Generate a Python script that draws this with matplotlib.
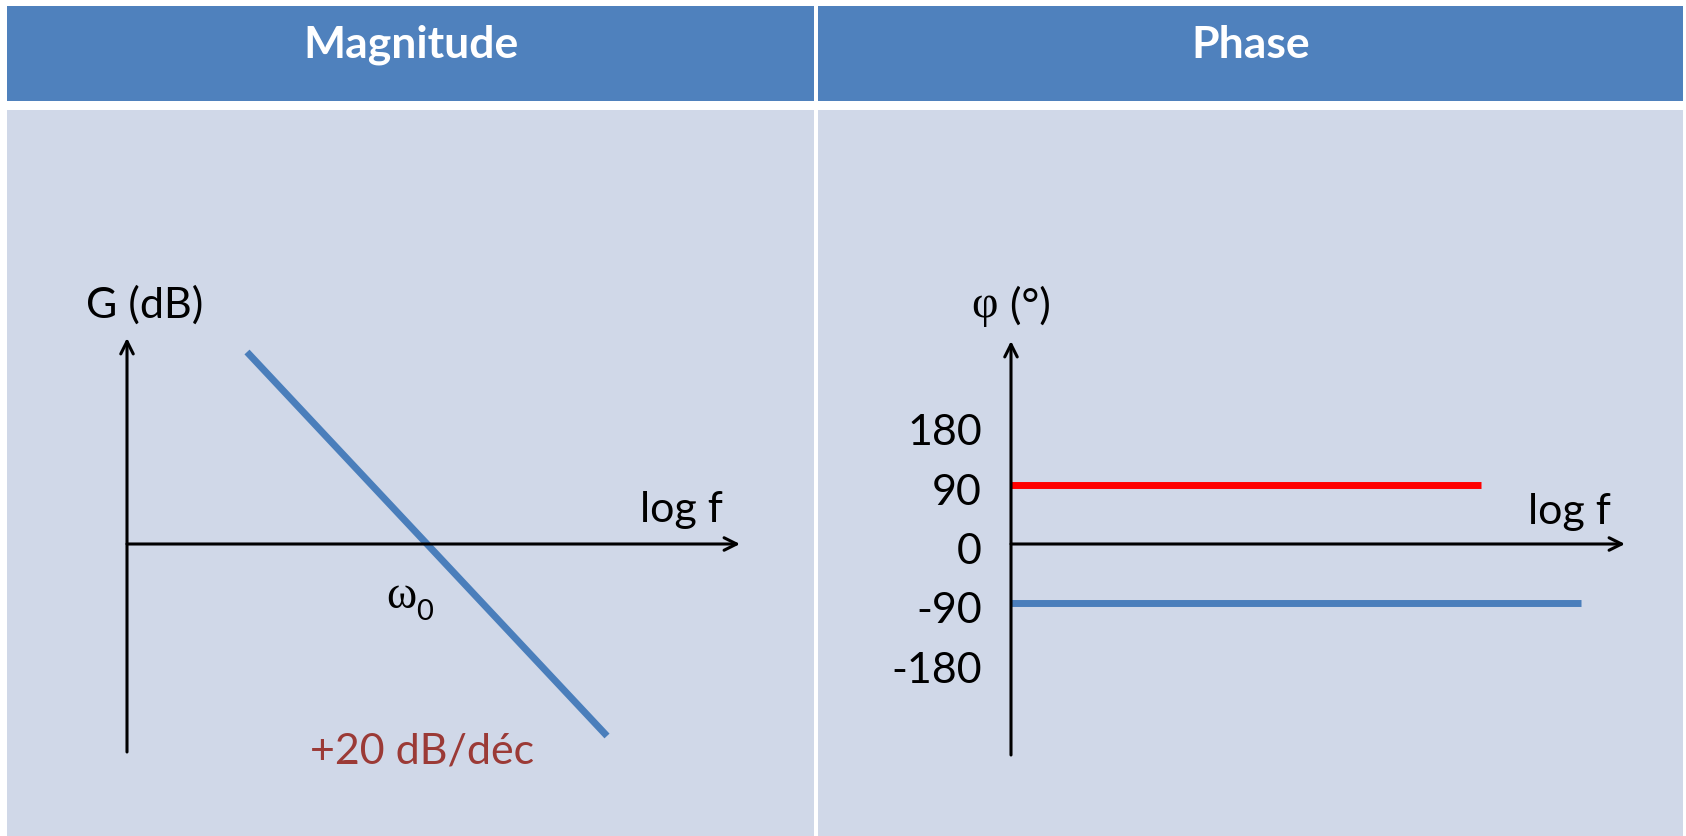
import matplotlib.pyplot as plt
from matplotlib.patches import Rectangle

# data: asymptotic Bode diagram (first-order, one decade = 1 unit of log f)
panel_titles = ["Magnitude", "Phase"]
mag_logf = [0.8, 3.2]
mag_gain = [24, -24]
w0_logf = 2.0
slope_label = "+20 dB/déc"
phase_red_logf = [0.0, 3.13]
phase_red = [90, 90]
phase_blue_logf = [0.0, 3.8]
phase_blue = [-90, -90]
phase_ticks = [180, 90, 0, -90, -180]

W, H = 1686, 837
header_col = "#4F81BD"
body_col = "#D0D8E8"
line_blue = "#4A7EBB"
red_txt = "#9B3A36"
font = "Lato"
fs = 31

fig = plt.figure(figsize=(W / 100, H / 100), dpi=100)
fig.patch.set_facecolor("white")


def px_rect(x0, y0, x1, y1, color):
    # rectangle given in image pixels (y from the top)
    fig.patches.append(Rectangle((x0 / W, 1 - y1 / H), (x1 - x0) / W, (y1 - y0) / H,
                                 transform=fig.transFigure, facecolor=color,
                                 edgecolor="none", zorder=-5))


# table look: two header cells and two body cells
px_rect(7, 7, 814, 102, header_col)
px_rect(818, 7, 1683, 102, header_col)
px_rect(7, 111, 814, 837, body_col)
px_rect(818, 111, 1683, 837, body_col)

fig.text(411 / W, 1 - 45 / H, panel_titles[0], color="white", fontsize=32,
         fontweight="bold", family=font, ha="center", va="center")
fig.text(1251 / W, 1 - 45 / H, panel_titles[1], color="white", fontsize=32,
         fontweight="bold", family=font, ha="center", va="center")


def make_axes(x0, x1, y_top, y_bot):
    ax = fig.add_axes([x0 / W, 1 - y_bot / H, (x1 - x0) / W, (y_bot - y_top) / H])
    ax.set_axis_off()
    ax.patch.set_alpha(0)
    return ax


arrow = dict(arrowstyle="->,head_length=0.9,head_width=0.45", color="black", lw=2.2,
             shrinkA=0, shrinkB=0)

# ---- magnitude panel: 150 px per decade, 8 px per dB, origin at (127, 545)
ax1 = make_axes(127, 745, 335, 755)
ax1.set_xlim(0, 618 / 150)
ax1.set_ylim(-210 / 8, 210 / 8)
ax1.annotate("", xy=(613 / 150, 0), xytext=(0, 0), arrowprops=arrow)
ax1.annotate("", xy=(0, 206 / 8), xytext=(0, -208 / 8), arrowprops=arrow)
ax1.plot(mag_logf, mag_gain, color=line_blue, lw=5, solid_capstyle="butt")
ax1.text(-41 / 150, 30, "G (dB)", fontsize=fs, family=font, ha="left", va="center")
ax1.text(3.97, 4.4, "log f", fontsize=fs, family=font, ha="right", va="center")
ax1.text(w0_logf - 0.27, -6.5, "ω", fontsize=33, family="Liberation Serif",
         ha="left", va="center")
ax1.text(w0_logf - 0.07, -8.4, "0", fontsize=21, family=font, ha="left", va="center")
ax1.text(w0_logf - 0.78, -25.8, slope_label, fontsize=fs, family=font,
         color=red_txt, ha="left", va="center")

# ---- phase panel: 150 px per decade, 0.66 px per degree, origin at (1011, 545)
ax2 = make_axes(1011, 1630, 338, 758)
ax2.set_xlim(0, 619 / 150)
ax2.set_ylim(-213 / 0.66, 207 / 0.66)
ax2.annotate("", xy=(614 / 150, 0), xytext=(0, 0), arrowprops=arrow)
ax2.annotate("", xy=(0, 203 / 0.66), xytext=(0, -211 / 0.66), arrowprops=arrow)
ax2.plot(phase_red_logf, phase_red, color="red", lw=5, solid_capstyle="butt")
ax2.plot(phase_blue_logf, phase_blue, color=line_blue, lw=5, solid_capstyle="butt")
for v in phase_ticks:
    ax2.annotate(str(v), xy=(0, v), xytext=(-29, -7), textcoords="offset pixels",
                 fontsize=fs, family=font, ha="right", va="center")
ax2.text(-40 / 150, 362, "φ", fontsize=33, family="Liberation Serif",
         ha="left", va="center")
ax2.text(-12 / 150, 362, " (°)", fontsize=fs, family=font, ha="left", va="center")
ax2.text(4.0, 50, "log f", fontsize=fs, family=font, ha="right", va="center")

fig.savefig("out.png", dpi=100)
